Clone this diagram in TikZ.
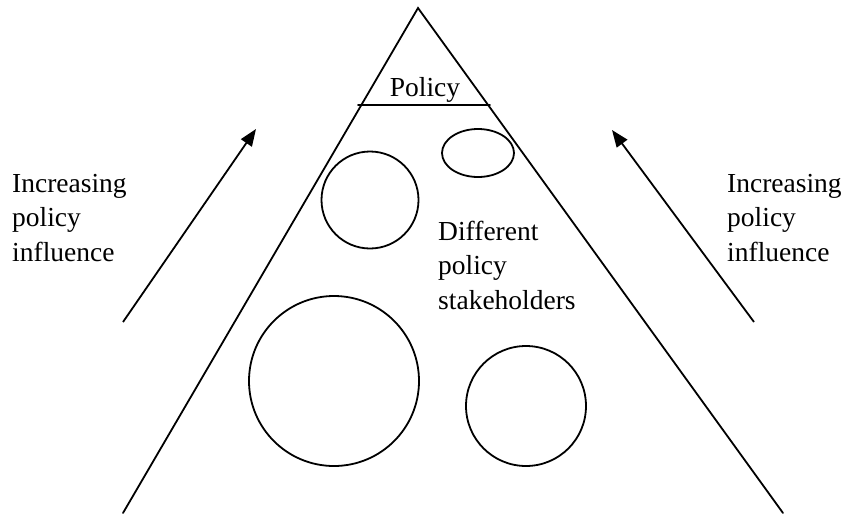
\documentclass[tikz,border=0pt]{standalone}
\usepackage{fontspec}
\setmainfont{Liberation Serif}
\usetikzlibrary{arrows.meta,shapes.geometric}
\begin{document}
\begin{tikzpicture}[x=1pt,y=-1pt,
  edge/.style={line width=1.8pt,line cap=round},
  influence/.style={line width=1.8pt,-{Triangle[length=17pt,width=13pt]}},
  lbl/.style={font=\fontsize{27.5}{34.5}\selectfont,inner sep=0pt,align=left},
  stake/.style={draw,line width=1.8pt,circle,inner sep=0pt},
  oval/.style={draw,line width=1.8pt,ellipse,inner sep=0pt}]
\useasboundingbox (0,0) rectangle (843,515);
% pyramid
\coordinate (apex) at (418,8);
\coordinate (bl) at (123,513);
\coordinate (br) at (783,513);
\coordinate (pl) at (358,105);
\coordinate (pr) at (490,105);
\draw[edge] (bl) -- (apex) -- (br);
\draw[edge] (pl) -- (pr);
\node[lbl,anchor=base] (policy) at (425,96) {Policy};
% stakeholders
\node[oval,minimum width=72pt,minimum height=48pt] (s1) at (478,153) {};
\node[stake,minimum size=97pt] (s2) at (370,200) {};
\node[stake,minimum size=170pt] (s3) at (334,381) {};
\node[stake,minimum size=120pt] (s4) at (526,406) {};
\node[lbl,anchor=base west] (diff) at (438,309) {Different\\policy\\stakeholders};
% arrows
\coordinate (lt) at (123,322);
\coordinate (lh) at (256,129);
\coordinate (rt) at (754,322);
\coordinate (rh) at (612,130);
\draw[influence] (lt) -- (lh);
\draw[influence] (rt) -- (rh);
\node[lbl,anchor=base west] (linf) at (12,261) {Increasing\\policy\\influence};
\node[lbl,anchor=base west] (rinf) at (727,261) {Increasing\\policy\\influence};
\end{tikzpicture}
\end{document}
